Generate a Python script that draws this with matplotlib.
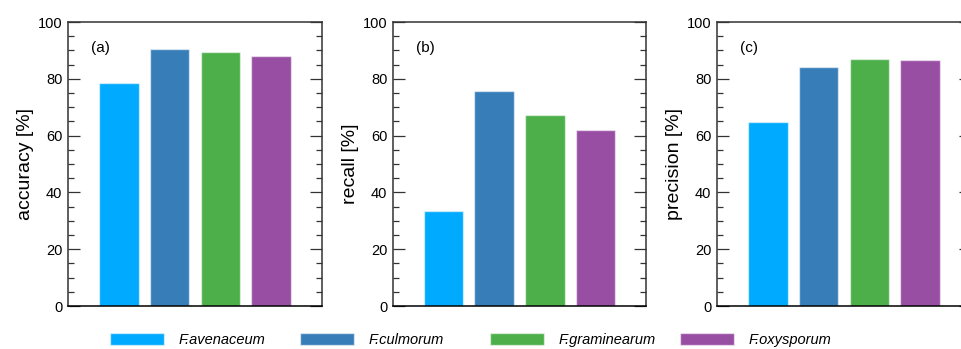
import matplotlib
matplotlib.use("Agg")
import matplotlib.pyplot as plt
from matplotlib.patches import Patch
from matplotlib.ticker import MultipleLocator

plt.rcParams['font.family'] = ['Liberation Sans', 'DejaVu Sans']

species = ["F.avenaceum", "F.culmorum", "F.graminearum", "F.oxysporum"]
colors = ["#00AAFF", "#377EB8", "#4DAF4A", "#984EA3"]
accuracy = [78.6, 90.6, 89.3, 88.0]
recall = [33.3, 75.8, 67.1, 62.0]
precision = [64.9, 84.0, 87.1, 86.7]
panels = [("(a)", "accuracy [%]", accuracy),
          ("(b)", "recall [%]", recall),
          ("(c)", "precision [%]", precision)]

W, H = 962, 349
fig = plt.figure(figsize=(W / 100, H / 100), dpi=100)

# axes boxes in pixels: left, right
boxes = [(68, 322), (393, 646), (717, 971)]
top_px, bot_px = 22, 306

for (lab, ylab, vals), (l, r) in zip(panels, boxes):
    ax = fig.add_axes([l / W, (H - bot_px) / H, (r - l) / W, (bot_px - top_px) / H])
    x = list(range(len(vals)))
    ax.bar(x, vals, width=0.78, color=colors,
           edgecolor=(1, 1, 1, 0.55), linewidth=1.0, zorder=2)
    ax.set_xlim(-1.0, 4.0)
    ax.set_ylim(0, 100)
    ax.set_xticks([])
    ax.yaxis.set_major_locator(MultipleLocator(20))
    ax.yaxis.set_minor_locator(MultipleLocator(5))
    ax.tick_params(axis='y', which='both', direction='in', right=True,
                   labelsize=10.5, color='#333333')
    ax.tick_params(axis='y', which='major', length=8.5, width=0.9, pad=4)
    ax.tick_params(axis='y', which='minor', length=4, width=0.9)
    for s in ax.spines.values():
        s.set_linewidth(1.1)
        s.set_color('#333333')
    ax.spines['bottom'].set_color('black')
    ax.set_ylabel(ylab, fontsize=14, labelpad=3)
    ax.text(0.09, 0.91, lab, transform=ax.transAxes, fontsize=11,
            ha='left', va='center')

# legend: four evenly spaced entries
xs = [109, 299, 489, 679]
for sp, c, xp in zip(species, colors, xs):
    h = Patch(facecolor=c, edgecolor=(1, 1, 1, 0.55), linewidth=1.0)
    leg = fig.legend([h], [sp], loc='center left',
                     bbox_to_anchor=(xp / W - 0.010, 0.026),
                     frameon=False, fontsize=10.5,
                     handlelength=3.7, handleheight=0.85,
                     handletextpad=1.05, borderpad=0.2)
    for t in leg.get_texts():
        t.set_fontstyle('italic')

fig.savefig("out.png", dpi=100)
